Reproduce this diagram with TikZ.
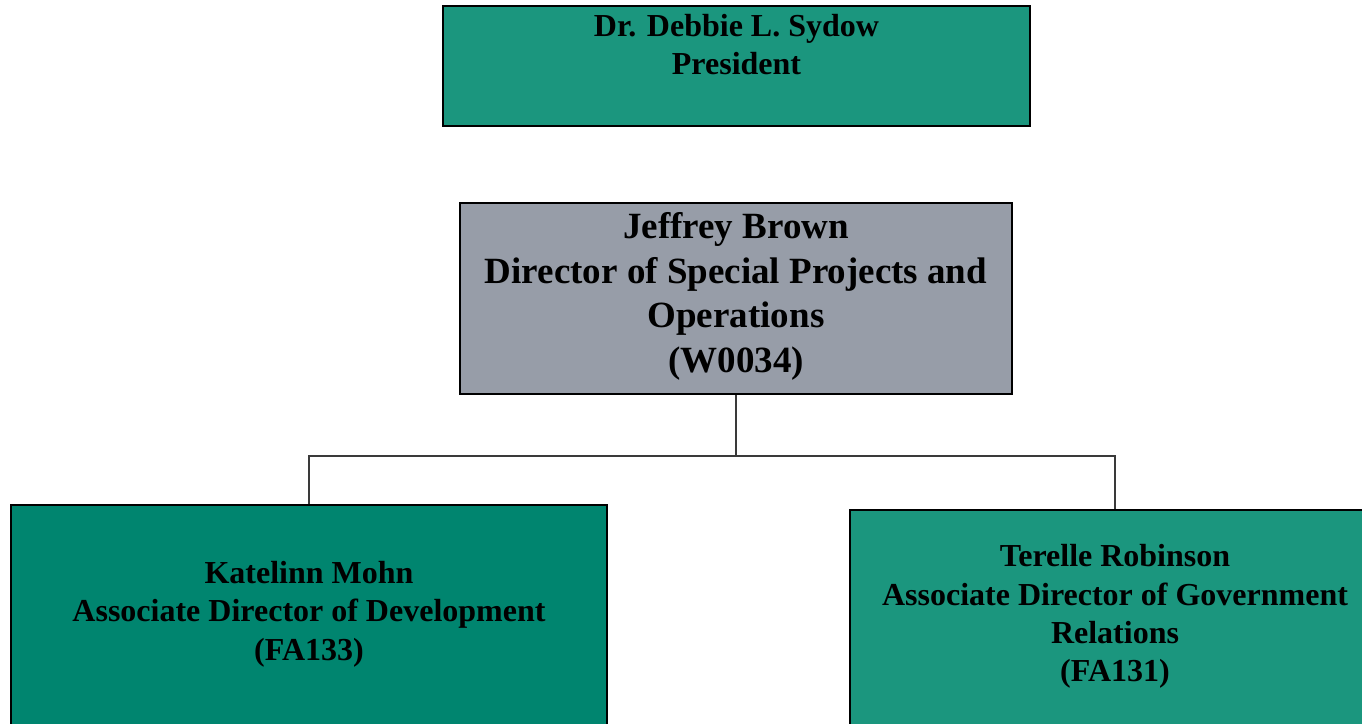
\documentclass[tikz,border=0pt]{standalone}
\usepackage{fontspec}
\setmainfont{Liberation Serif}
\definecolor{tealA}{HTML}{1B967E}
\definecolor{tealB}{HTML}{00856F}
\definecolor{greyA}{HTML}{979DA8}
\definecolor{connc}{HTML}{3A3A3A}
\tikzset{
  box/.style={draw=black, line width=2.6bp, rectangle, inner sep=0pt},
  conn/.style={draw=connc, line width=1.1bp},
  lbl/.style={align=center, anchor=base, inner sep=0pt, text=black},
  smallf/.style={font=\fontsize{32bp}{38.3bp}\selectfont\bfseries},
  bigf/.style={font=\fontsize{37bp}{44.7bp}\selectfont\bfseries}
}
\begin{document}
\begin{tikzpicture}[x=1bp,y=-1bp]
\useasboundingbox (0,0) rectangle (1362,723);
\clip (0,0) rectangle (1362,723);
\fill[white] (0,0) rectangle (1362,723);
% boxes
\node[box, fill=tealA, minimum width=587bp, minimum height=120bp] (pres) at (736.5,66) {};
\node[box, fill=greyA, minimum width=552bp, minimum height=191bp] (jb) at (736,298.5) {};
\node[box, fill=tealB, minimum width=596bp, minimum height=255bp] (km) at (309,632.5) {};
\node[box, fill=tealA, minimum width=530bp, minimum height=250bp] (tr) at (1115,635) {};
% texts (base anchor = baseline of the last line)
\node[lbl, smallf] (prest) at (736.5,75) {Dr. Debbie L. Sydow\\President};
\node[lbl, bigf] (jbt) at (736,372.5) {Jeffrey Brown\\Director of Special Projects and\\Operations\\(W0034)};
\node[lbl, smallf] (kmt) at (309,660) {Katelinn Mohn\\Associate Director of Development\\(FA133)};
\node[lbl, smallf] (trt) at (1115,681.7) {Terelle Robinson\\Associate Director of Government\\Relations\\(FA131)};
% connectors
\coordinate (bus) at (736,456);
\draw[conn] (jb.south) -- (bus) -| (km.north);
\draw[conn] (bus) -| (tr.north);
\end{tikzpicture}
\end{document}
